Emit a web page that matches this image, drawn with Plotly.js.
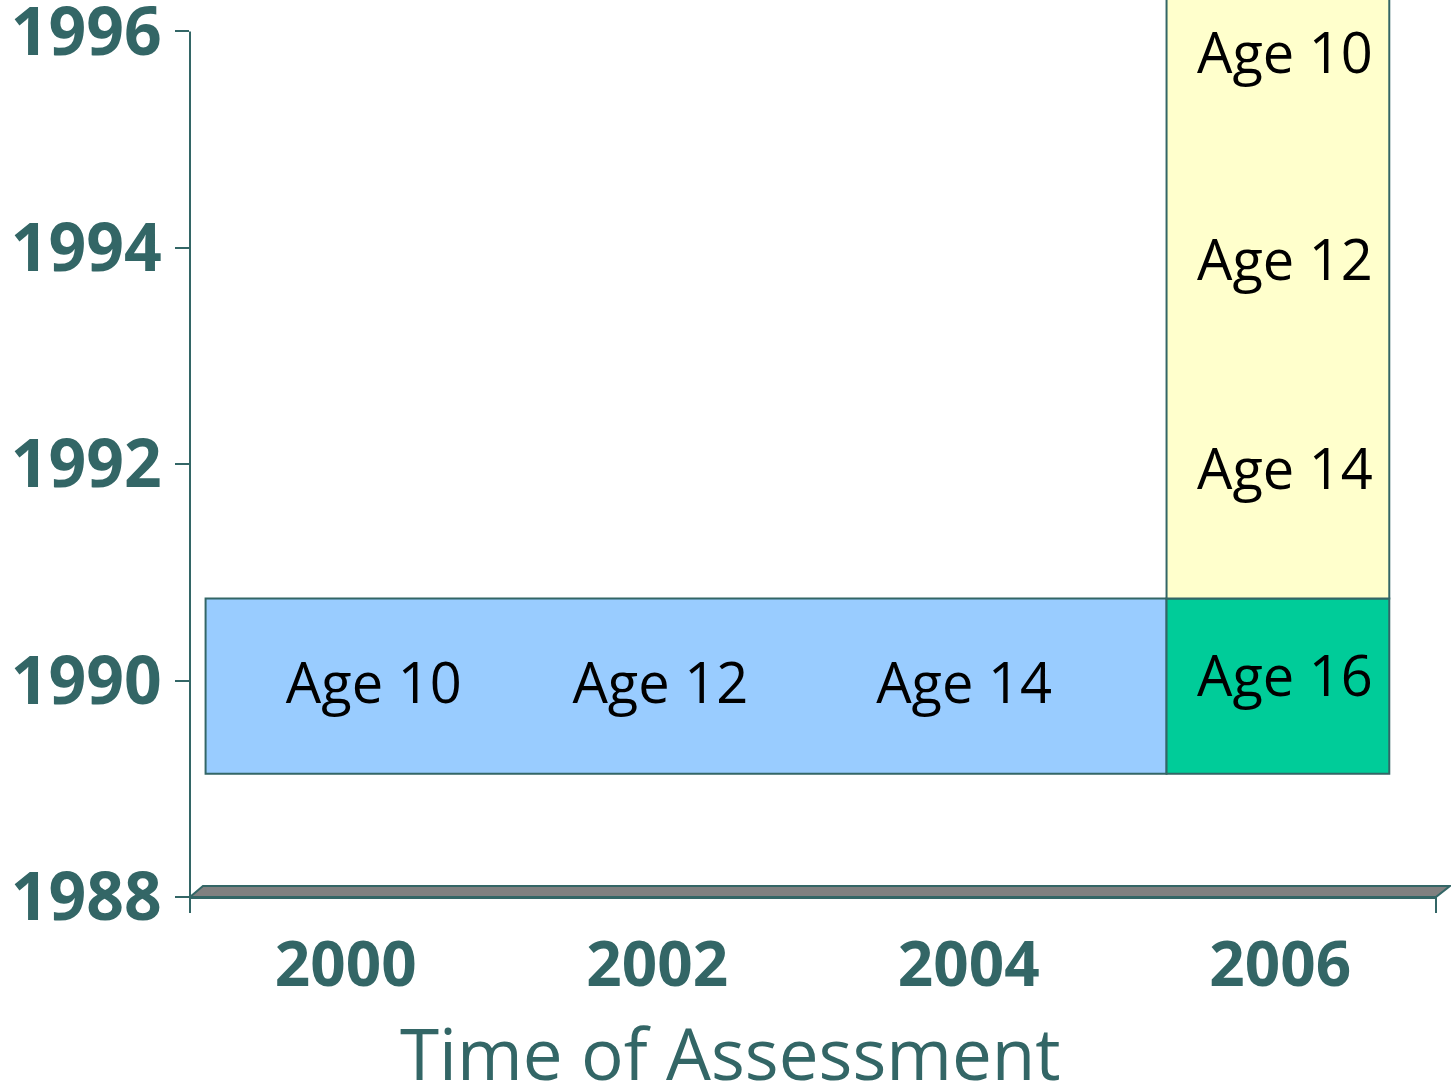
<!DOCTYPE html>
<html>
<head>
<meta charset="utf-8">
<script src="https://cdn.plot.ly/plotly-3.0.1.min.js"></script>
<style>
html, body { margin: 0; padding: 0; background: #ffffff; }
#chart { width: 1451px; height: 1088px; }
</style>
</head>
<body>
<div id="chart"></div>
<script>
// ---- data ----
const assessmentYears = [2000, 2002, 2004, 2006];
const assessmentLabels = ['2000', '2002', '2004', '2006'];
const birthYearTicks = [1988, 1990, 1992, 1994, 1996];
const birthYearTickLabels = ['1988', '1990', '1992', '1994', '1996'];

// longitudinal cohort assessed 2000-2004
const longitudinalSpan = [1999.10, 2005.27];   // assessment-year extent
const longitudinalBand = [1989.14, 1990.76];   // birth-year extent
const longitudinalLabels = ['Age 10', 'Age 12', 'Age 14'];
const longitudinalLabelX = [2000.18, 2002.02, 2003.97];
const longitudinalLabelY = [1989.92, 1989.92, 1989.92];

// 2006 assessment
const crossSpan = [2005.27, 2006.70];
const age16Band = [1989.14, 1990.76];
const youngerBand = [1990.76, 1996.5];
const crossLabels = ['Age 10', 'Age 12', 'Age 14', 'Age 16'];
const crossLabelX = [2006.03, 2006.03, 2006.03, 2006.03];
const crossLabelY = [1995.75, 1993.83, 1991.90, 1989.99];

// ---- styling ----
const TEAL = '#336666';
const mid = a => (a[0] + a[1]) / 2;
const len = a => a[1] - a[0];
const edge = { color: TEAL, width: 2 };

const traces = [
  {
    type: 'bar', x: [mid(longitudinalSpan)], y: [len(longitudinalBand)],
    base: [longitudinalBand[0]], width: [len(longitudinalSpan)],
    marker: { color: '#99CCFF', line: edge }, hoverinfo: 'skip'
  },
  {
    type: 'bar', x: [mid(crossSpan)], y: [len(age16Band)],
    base: [age16Band[0]], width: [len(crossSpan)],
    marker: { color: '#00CC99', line: edge }, hoverinfo: 'skip'
  },
  {
    type: 'bar', x: [mid(crossSpan)], y: [len(youngerBand)],
    base: [youngerBand[0]], width: [len(crossSpan)],
    marker: { color: '#FFFFCC', line: edge }, hoverinfo: 'skip'
  },
  {
    type: 'scatter', mode: 'text', x: longitudinalLabelX, y: longitudinalLabelY,
    text: longitudinalLabels, textposition: 'middle center', cliponaxis: false,
    textfont: { family: 'Open Sans, sans-serif', size: 56, color: '#000000' }, hoverinfo: 'skip'
  },
  {
    type: 'scatter', mode: 'text', x: crossLabelX, y: crossLabelY,
    text: crossLabels, textposition: 'middle center', cliponaxis: false,
    textfont: { family: 'Open Sans, sans-serif', size: 56, color: '#000000' }, hoverinfo: 'skip'
  }
];

const layout = {
  width: 1451, height: 1088,
  margin: { l: 190, r: 15, t: 0, b: 191, pad: 0 },
  paper_bgcolor: '#ffffff', plot_bgcolor: '#ffffff',
  showlegend: false, barmode: 'overlay',
  xaxis: {
    range: [1999, 2007], tickmode: 'array', tickvals: assessmentYears, ticktext: assessmentLabels,
    ticks: '', showgrid: false, zeroline: false,
    showline: true, linecolor: TEAL, linewidth: 2,
    tickfont: { family: 'Open Sans, sans-serif', size: 62, color: TEAL, weight: 'bold' },
    ticklabelstandoff: 13, ticklabeloverflow: 'allow', fixedrange: true
  },
  yaxis: {
    range: [1988, 1996.291], tickmode: 'array', tickvals: birthYearTicks, ticktext: birthYearTickLabels,
    ticks: 'outside', ticklen: 14, tickwidth: 2, tickcolor: TEAL,
    showgrid: false, zeroline: false, showline: false,
    tickfont: { family: 'Open Sans, sans-serif', size: 66, color: TEAL, weight: 'bold' },
    ticklabelstandoff: 0, ticklabeloverflow: 'allow', fixedrange: true
  },
  shapes: [
    { type: 'line', xref: 'paper', yref: 'y', x0: 0, x1: 0, y0: 1988, y1: 1996, line: edge },
    { type: 'line', xref: 'paper', yref: 'paper', x0: 0, x1: 0, y0: 0, y1: -16 / 897, line: edge },
    { type: 'line', xref: 'paper', yref: 'paper', x0: 1, x1: 1, y0: 0, y1: -16 / 897, line: edge },
    { type: 'path', xref: 'paper', yref: 'paper',
      path: 'M 0 0 L 0.0104 0.01226 L 1.0112 0.01226 L 1 0 Z',
      fillcolor: '#808080', line: edge }
  ],
  annotations: [
    { text: 'Time of Assessment', xref: 'paper', yref: 'paper', x: 0.4334, y: 0,
      xanchor: 'center', yanchor: 'middle', yshift: -155, showarrow: false,
      font: { family: 'Open Sans, sans-serif', size: 71, color: TEAL } }
  ]
};

Plotly.newPlot('chart', traces, layout, { displayModeBar: false, staticPlot: true });
</script>
</body>
</html>
